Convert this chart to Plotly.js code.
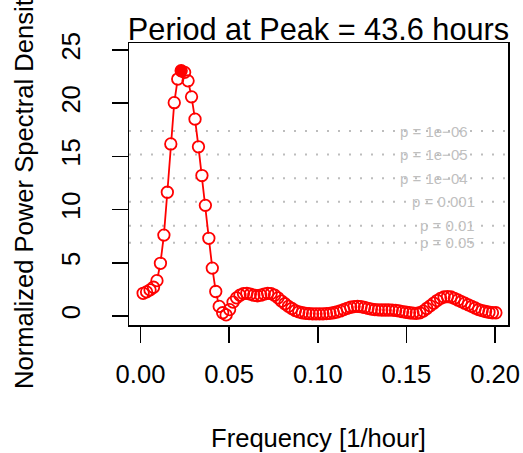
<!DOCTYPE html>
<html><head><meta charset="utf-8">
<script src="https://cdn.plot.ly/plotly-3.0.1.min.js"></script>
<style>html,body{margin:0;padding:0;background:#fff;}</style>
</head><body><div id="chart" style="width:523px;height:453px;"></div>
<script>
// Frequency grid [1/hour]
const freq = [0.00147,0.00342,0.00537,0.00732,0.00927,0.01123,0.01318,0.01513,0.01708,0.01903,
0.02098,0.02293,0.02488,0.02683,0.02878,0.03074,0.03269,0.03464,0.03659,0.03854,
0.04049,0.04244,0.04439,0.04634,0.04829,0.05025,0.05220,0.05415,0.05610,0.05805,
0.06000,0.06195,0.06390,0.06585,0.06780,0.06976,0.07171,0.07366,0.07561,0.07756,
0.07951,0.08146,0.08341,0.08536,0.08731,0.08927,0.09122,0.09317,0.09512,0.09707,
0.09902,0.10097,0.10292,0.10487,0.10682,0.10878,0.11073,0.11268,0.11463,0.11658,
0.11853,0.12048,0.12243,0.12438,0.12633,0.12829,0.13024,0.13219,0.13414,0.13609,
0.13804,0.13999,0.14194,0.14389,0.14584,0.14780,0.14975,0.15170,0.15365,0.15560,
0.15755,0.15950,0.16145,0.16340,0.16535,0.16731,0.16926,0.17121,0.17316,0.17511,
0.17706,0.17901,0.18096,0.18291,0.18486,0.18682,0.18877,0.19072,0.19267,0.19462,
0.19657,0.19852,0.20047];
// Normalized power spectral density
const power = [2.13,2.26,2.45,2.70,3.32,4.95,7.60,11.63,16.17,20.05,
22.27,23.05,22.90,22.10,20.60,18.50,15.90,13.20,10.40,7.30,
4.50,2.30,0.90,0.30,0.10,0.60,1.30,1.70,1.95,2.10,
2.13,2.05,1.95,1.90,1.95,2.05,2.13,2.10,1.95,1.70,
1.40,1.15,0.90,0.70,0.50,0.38,0.30,0.25,0.22,0.20,
0.20,0.20,0.20,0.22,0.25,0.30,0.37,0.47,0.60,0.72,
0.82,0.88,0.90,0.87,0.80,0.72,0.65,0.60,0.57,0.56,
0.56,0.56,0.55,0.52,0.47,0.40,0.35,0.30,0.26,0.25,
0.30,0.45,0.70,0.95,1.20,1.45,1.65,1.78,1.82,1.78,
1.65,1.50,1.35,1.20,1.05,0.90,0.75,0.60,0.50,0.42,
0.35,0.30,0.30];
const peakFreq = [0.02293];
const peakPower = [23.05];
const sigLevels = [6.88, 8.49, 10.73, 12.95, 15.18, 17.38];
const sigLabels = ['p = 0.05','p = 0.01','p = 0.001','p = 1e\u221204','p = 1e\u221205','p = 1e\u221206'];
const sigLabelX = [0.190, 0.190, 0.190, 0.1861, 0.1861, 0.1861];
const xTicks = [0, 0.05, 0.10, 0.15, 0.20];
const xTickText = ['0.00','0.05','0.10','0.15','0.20'];
const yTicks = [0, 5, 10, 15, 20, 25];
const yTickText = ['0','5','10','15','20','25'];
const titleText = 'Period at Peak = 43.6 hours';
const xTitle = 'Frequency [1/hour]';
const yTitle = 'Normalized Power Spectral Density';

const FONT = 'Liberation Sans, Arial, Helvetica, sans-serif';
const RED = '#FF0000';

const traces = [
  {x: freq, y: power, mode: 'lines', line: {color: RED, width: 1.8}, hoverinfo: 'skip', showlegend: false},
  {x: freq, y: power, mode: 'markers', marker: {symbol: 'circle', size: 9.2, color: '#ffffff', line: {width: 0}}, hoverinfo: 'skip', showlegend: false},
  {x: freq, y: power, mode: 'markers', marker: {symbol: 'circle-open', size: 11.5, color: RED, line: {color: RED, width: 1.8}}, showlegend: false},
  {x: peakFreq, y: peakPower, mode: 'markers', marker: {symbol: 'circle', size: 12, color: RED}, showlegend: false}
];

const shapes = sigLevels.map(v => ({
  type: 'line', xref: 'paper', x0: 0, x1: 1, yref: 'y', y0: v, y1: v, layer: 'below',
  line: {color: '#bdbdbd', width: 2, dash: '2px,9px'}
}));

const annotations = sigLevels.map((v, i) => ({
  x: sigLabelX[i], y: v, xref: 'x', yref: 'y', text: sigLabels[i], showarrow: false,
  xanchor: 'right', yanchor: 'middle', font: {family: FONT, size: 15, color: '#bfbfbf'}
}));
annotations.push({
  x: 0.5, y: 0, xref: 'paper', yref: 'paper', text: xTitle, showarrow: false,
  xanchor: 'center', yanchor: 'middle', yshift: -113, font: {family: FONT, size: 25.6, color: '#000'}
});
annotations.push({
  x: 0, y: 0.5, xref: 'paper', yref: 'paper', text: yTitle, showarrow: false, textangle: -90,
  xanchor: 'center', yanchor: 'middle', xshift: -105, yshift: -4, font: {family: FONT, size: 25.6, color: '#000'}
});

const layout = {
  width: 523, height: 453,
  margin: {l: 129, r: 15, t: 43, b: 128, pad: 0},
  paper_bgcolor: '#ffffff', plot_bgcolor: '#ffffff',
  font: {family: FONT, size: 25.6, color: '#000'},
  title: {text: titleText, font: {family: FONT, size: 30.7, color: '#000'},
          x: 0.5, xref: 'paper', xanchor: 'center', y: 1 - 29/453, yref: 'container', yanchor: 'middle'},
  xaxis: {range: [-0.0065, 0.2073], tickmode: 'array', tickvals: xTicks, ticktext: xTickText,
          ticks: 'outside', ticklen: 16, tickwidth: 1.5, tickcolor: '#000',
          showline: true, mirror: true, linecolor: '#000', linewidth: 1.5,
          showgrid: false, zeroline: false, ticklabelstandoff: 10,
          tickfont: {family: FONT, size: 25.6, color: '#000'}},
  yaxis: {range: [-0.85, 25.66], tickmode: 'array', tickvals: yTicks, ticktext: yTickText,
          ticks: 'outside', ticklen: 16, tickwidth: 1.5, tickcolor: '#000', tickangle: -90,
          showline: true, mirror: true, linecolor: '#000', linewidth: 1.5,
          showgrid: false, zeroline: false, ticklabelstandoff: 21,
          tickfont: {family: FONT, size: 25.6, color: '#000'}},
  shapes: shapes,
  annotations: annotations,
  showlegend: false
};

Plotly.newPlot('chart', traces, layout, {displayModeBar: false, staticPlot: true});
</script>
</body></html>
